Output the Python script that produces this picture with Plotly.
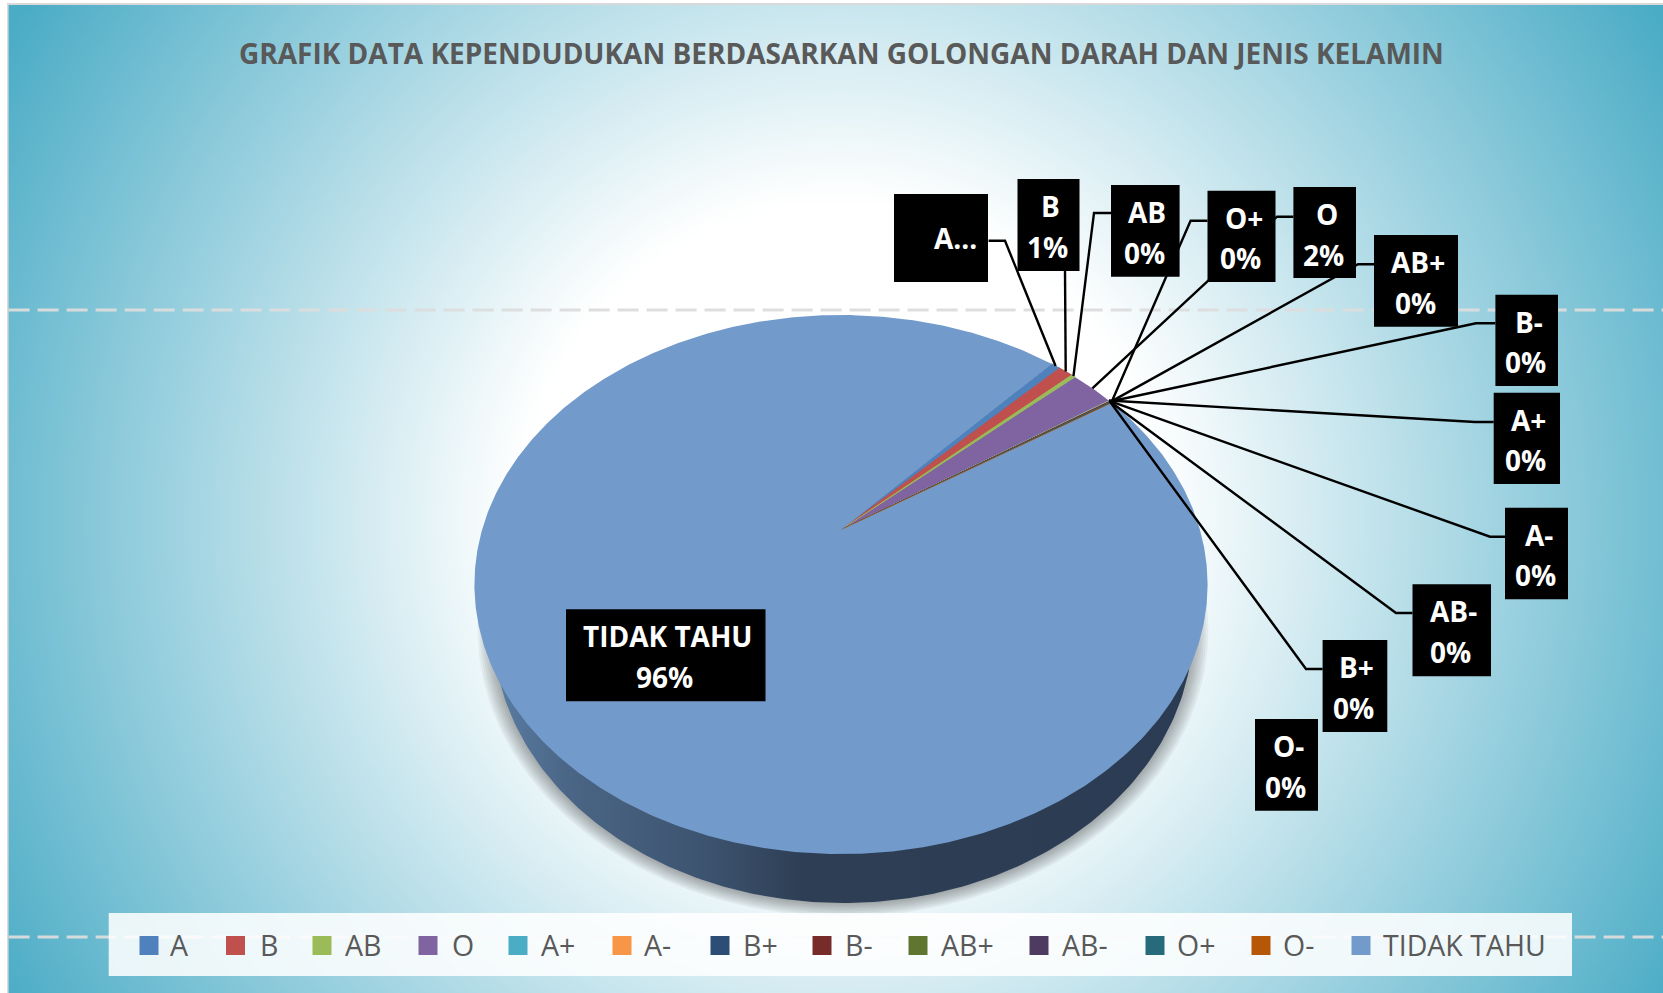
import numpy as np
import plotly.graph_objects as go

# ---------- data ----------
categories = ["A", "B", "AB", "O", "A+", "A-", "B+", "B-", "AB+", "AB-", "O+", "O-", "TIDAK TAHU"]
percent_values = [0.50, 0.78, 0.22, 2.30, 0.03, 0.03, 0.03, 0.03, 0.03, 0.03, 0.03, 0.03, 95.96]
slice_colors = ["#4F81BD", "#C0504D", "#9BBB59", "#8064A2", "#4BACC6", "#F79646", "#2C4D75",
                "#772C2A", "#5F7530", "#4D3B62", "#276A7C", "#B65708", "#729ACA"]
chart_title = "GRAFIK DATA KEPENDUDUKAN BERDASARKAN GOLONGAN DARAH DAN JENIS KELAMIN"

# ---------- layout constants (pixels) ----------
W, H = 1663, 993
APEX_X, APEX_Y = 841.0, 530.0     # projected pie centre
PERSP_A, PERSP_B, PERSP_K = 359.0, 258.5, 0.2023
FIRST_ANGLE = 42.4                # first slice angle, clockwise from the back of the pie

label_boxes = {
    "A": (894, 988, 194, 282), "B": (1017.5, 1079.5, 179, 271), "AB": (1111, 1179.6, 185, 276.7),
    "O+": (1207.5, 1275.5, 190.7, 282), "O": (1293.4, 1356, 187, 278), "AB+": (1374, 1458, 235, 326.7),
    "B-": (1495.4, 1558, 294.7, 386), "A+": (1493.7, 1560, 392.7, 484), "A-": (1505, 1568, 507.7, 599.3),
    "AB-": (1412.5, 1491, 584.3, 676.3), "B+": (1322.6, 1387.3, 640, 732), "O-": (1255, 1318, 719, 810.7),
    "TIDAK TAHU": (566, 765.5, 609.3, 701.3),
}
leader_paths = {
    "A": [(1005, 240.7), (988.6, 240.7)], "B": [(1065, 271)], "AB": [(1094, 213), (1111, 213)],
    "O+": [(1190.6, 220.7), (1207.5, 220.7)], "O": [(1277, 216.7), (1293.4, 216.7)],
    "AB+": [(1358, 264.3), (1374, 264.3)], "B-": [(1476, 323.3), (1495.4, 323.3)],
    "A+": [(1475, 422), (1493.7, 422)], "A-": [(1490, 536.7), (1505, 536.7)],
    "AB-": [(1396, 613), (1412.5, 613)], "B+": [(1306, 669), (1322.6, 669)],
}
legend_swatch_x = [139, 225.5, 312, 418, 508, 612, 710, 812, 908, 1029, 1145, 1251, 1351]
legend_text_x = [168, 258, 342.5, 449.6, 539, 642, 740.5, 843, 938.6, 1060, 1175, 1281, 1381]


def rim(theta_deg, scale=1.0):
    t = np.radians(theta_deg)
    u, v = scale * np.sin(t), scale * np.cos(t)
    w = 1 + PERSP_K * v
    return APEX_X + PERSP_A * u / w, APEX_Y - PERSP_B * v / w


def ellipse(cx, cy, rx, ry):
    t = np.linspace(0, 2 * np.pi, 361)
    return cx + rx * np.cos(t), cy + ry * np.sin(t)


fig = go.Figure()

# background gradient
gx = np.linspace(8.6, W, 84)
gy = np.linspace(5, H, 50)
XX, YY = np.meshgrid(gx, gy)
fig.add_trace(go.Heatmap(
    x=gx, y=gy, z=np.clip((np.hypot(XX - 838, YY - 520) - 320) / 640, 0, 1),
    colorscale=[[0, "#FFFFFF"], [1, "#4BACC6"]], zmin=0, zmax=1, zsmooth="best",
    showscale=False, hoverinfo="skip"))

# dashed guide lines
for y in (310, 937):
    fig.add_trace(go.Scatter(x=[8.6, W], y=[y, y], mode="lines", showlegend=False, hoverinfo="skip",
                             line=dict(color="rgba(220,220,220,0.95)", width=3, dash="21px,8px")))

# shadow under the pie wall
for i in range(8):
    sx, sy = ellipse(843, 628 + 1, 350 + i * 2.2, 275 + i * 1.8)
    fig.add_trace(go.Scatter(x=sx, y=sy, mode="lines", fill="toself", fillcolor="rgba(30,30,30,0.055)",
                             line=dict(width=0), showlegend=False, hoverinfo="skip"))

# pie wall
wx, wy = ellipse(843, 628, 350, 275)
fig.add_trace(go.Scatter(x=wx, y=wy, mode="lines", line=dict(width=0), showlegend=False, hoverinfo="skip",
                         fill="toself",
                         fillgradient=dict(type="horizontal", colorscale=[
                             [0, "#5A7DA3"], [0.11, "#4A6585"], [0.30, "#3D5470"], [0.44, "#2E3F55"],
                             [1, "#2B3B53"]])))

# top face slices, drawn in perspective from the values
total = sum(percent_values)
mid_angle = {}
angle = FIRST_ANGLE
for name, value, color in zip(categories, percent_values, slice_colors):
    sweep = value / total * 360
    mid_angle[name] = angle + sweep / 2
    th = np.linspace(angle, angle + sweep, max(2, int(sweep * 2) + 2))
    rx, ry = rim(th)
    fig.add_trace(go.Scatter(
        x=np.r_[APEX_X, rx, APEX_X], y=np.r_[APEX_Y, ry, APEX_Y], mode="lines", fill="toself",
        fillcolor=color, name=name, showlegend=False,
        line=dict(color=color, width=1 if value < 1 else 0),
        hovertemplate=f"{name}: {value:.2f}%<extra></extra>"))
    angle += sweep

# leader lines
for name, path in leader_paths.items():
    sx, sy = rim(mid_angle[name])
    fig.add_trace(go.Scatter(x=[sx] + [p[0] for p in path], y=[sy] + [p[1] for p in path], mode="lines",
                             line=dict(color="#000000", width=2.4), showlegend=False, hoverinfo="skip"))

# legend
fig.add_trace(go.Scatter(x=[108.7, 1572, 1572, 108.7, 108.7], y=[913, 913, 976, 976, 913], mode="lines",
                         fill="toself", fillcolor="rgba(255,255,255,0.86)", line=dict(width=0),
                         showlegend=False, hoverinfo="skip"))
fig.add_trace(go.Scatter(x=[v + 10 for v in legend_swatch_x], y=[945.5] * len(categories), mode="markers",
                         marker=dict(symbol="square", size=19, color=slice_colors, line=dict(width=0)),
                         showlegend=False, hoverinfo="skip"))

annotations = []
shapes = [
    dict(type="rect", xref="x", yref="y", x0=0, x1=7, y0=0, y1=H, fillcolor="#FFFFFF", line=dict(width=0)),
    dict(type="rect", xref="x", yref="y", x0=0, x1=W, y0=0, y1=3, fillcolor="#FFFFFF", line=dict(width=0)),
    dict(type="rect", xref="x", yref="y", x0=7, x1=8.6, y0=3, y1=H, fillcolor="#D9D9D9", line=dict(width=0)),
    dict(type="rect", xref="x", yref="y", x0=7, x1=W, y0=3, y1=5, fillcolor="#D9D9D9", line=dict(width=0)),
]
for name, tx in zip(categories, legend_text_x):
    annotations.append(dict(x=tx, y=944.5, xref="x", yref="y", text=name, showarrow=False, xanchor="left",
                            yanchor="middle", font=dict(family="Open Sans", size=28.5, color="#595959")))

# data labels
for name, value in zip(categories, percent_values):
    x0, x1, y0, y1 = label_boxes[name]
    shapes.append(dict(type="rect", xref="x", yref="y", x0=x0, x1=x1, y0=y0, y1=y1,
                       fillcolor="#000000", line=dict(width=0)))
    cx = (x0 + x1) / 2
    lab_font = dict(family="Open Sans", size=28, color="#FFFFFF", weight=700)
    if name == "A":
        annotations.append(dict(x=955, y=238, xref="x", yref="y", text="A...", showarrow=False, font=lab_font))
    else:
        annotations.append(dict(x=cx + 2, y=y0 + 27, xref="x", yref="y", text=name, showarrow=False, font=lab_font))
        annotations.append(dict(x=cx - 1, y=y0 + 67.5, xref="x", yref="y", text=f"{value / total * 100:.0f}%",
                                showarrow=False, font=lab_font))

annotations.append(dict(x=841, y=52.5, xref="x", yref="y", text=chart_title, showarrow=False,
                        font=dict(family="Open Sans", size=28, color="#595959", weight=700)))

fig.update_layout(
    width=W, height=H, margin=dict(l=0, r=0, t=0, b=0), paper_bgcolor="#FFFFFF", plot_bgcolor="#FFFFFF",
    xaxis=dict(range=[0, W], visible=False, fixedrange=True),
    yaxis=dict(range=[H, 0], visible=False, fixedrange=True),
    showlegend=False, annotations=annotations, shapes=shapes)

fig.write_html("out.html", config={"displayModeBar": False},
               post_script="document.body.style.margin='0';document.body.style.overflow='hidden';")
